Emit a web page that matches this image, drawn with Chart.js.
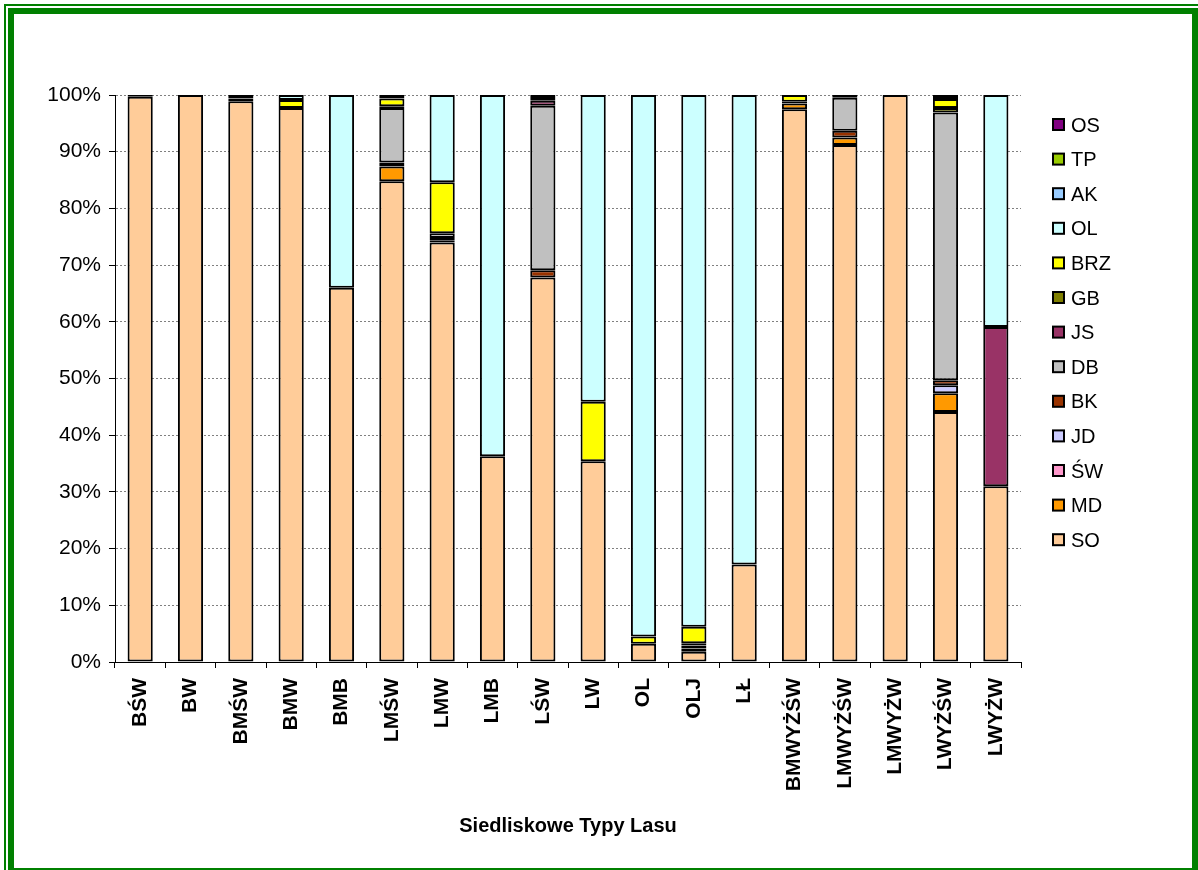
<!DOCTYPE html>
<html>
<head>
<meta charset="utf-8">
<script src="https://cdn.jsdelivr.net/npm/chart.js@4"></script>
<style>
  html, body { margin: 0; padding: 0; background: #fff; overflow: hidden; }
  #wrap { position: relative; width: 1198px; height: 870px; }
  #c { position: absolute; left: 0; top: 0; }
  .b1 { position: absolute; left: 4px; top: 4px; width: 1300px; height: 1000px; border: 2px solid #008000; box-sizing: border-box; }
  .b2 { position: absolute; left: 8px; top: 8px; width: 1190px; height: 866px; border: 6px solid #008000; box-sizing: border-box; }
</style>
</head>
<body>
<div id="wrap">
  <canvas id="c" width="1198" height="870"></canvas>
  <div class="b1"></div>
  <div class="b2"></div>
</div>
<script>
const categories = ['BŚW','BW','BMŚW','BMW','BMB','LMŚW','LMW','LMB','LŚW','LW','OL','OLJ','LŁ','BMWYŻŚW','LMWYŻŚW','LMWYŻW','LWYŻŚW','LWYŻW'];

const SO  = [99.7,100,98.9,97.7,66.0,84.8,74.0,36.3,67.8,35.4,3.2,1.8,17.2,97.5,91.2,100,44.1,31.0];
const MD  = [0,0,0,0,0,2.6,0,0,0,0,0,0,0,1.0,1.3,0,3.3,0];
const SW  = [0,0,0,0,0,0,0,0,0,0,0,0,0,0,0,0,0,0];
const JD  = [0,0,0,0,0,0,0.3,0,0,0,0,0,0,0,0,0,1.4,0];
const BK  = [0,0,0.5,0,0,0.7,0.5,0,1.3,0,0,0.6,0,0.3,1.2,0,0.9,0];
const DB  = [0,0,0,0,0,9.6,0.8,0,29.0,0,0,0,0,0,5.8,0,47.2,0];
const JS  = [0,0,0,0,0,0,0,0,0.9,0,0,0.5,0,0,0,0,0,28.1];
const GB  = [0.3,0,0.6,0,0,0.3,0,0,0,0,0,0.4,0,0,0.5,0,0.8,0];
const BRZ = [0,0,0,1.4,0,1.4,9.0,0,0,10.5,1.3,2.9,0,1.2,0,0,1.6,0];
const OL  = [0,0,0,0.9,34.0,0,15.4,63.7,0,54.1,95.5,93.8,82.8,0,0,0,0,40.9];
const AK  = [0,0,0,0,0,0,0,0,0.3,0,0,0,0,0,0,0,0,0];
const TP  = [0,0,0,0,0,0,0,0,0,0,0,0,0,0,0,0,0,0];
const OS  = [0,0,0,0,0,0.6,0,0,0.7,0,0,0,0,0,0,0,0.7,0];

const seriesNames = ['SO','MD','ŚW','JD','BK','DB','JS','GB','BRZ','OL','AK','TP','OS'];
const seriesData = [SO,MD,SW,JD,BK,DB,JS,GB,BRZ,OL,AK,TP,OS];
const seriesColors = ['#FFCC99','#FF9900','#FF99CC','#CCCCFF','#993300','#C0C0C0','#993366','#808000','#FFFF00','#CCFFFF','#99CCFF','#99CC00','#800080'];

const yTicks = [0,10,20,30,40,50,60,70,80,90,100];
const xTitle = 'Siedliskowe Typy Lasu';

const FONT = 'Arial, "Liberation Sans", sans-serif';

const legendPlugin = {
  id: 'sideLegend',
  afterDraw(chart) {
    const ctx = chart.ctx;
    const ds = chart.data.datasets;
    const x0 = 1053, y0 = 125, step = 34.6;
    ctx.save();
    ctx.font = '20px ' + FONT;
    ctx.textBaseline = 'middle';
    ctx.textAlign = 'left';
    for (let i = ds.length - 1, k = 0; i >= 0; i--, k++) {
      const y = y0 + k * step;
      ctx.fillStyle = ds[i].backgroundColor;
      ctx.fillRect(x0, y - 6, 11, 11);
      ctx.strokeStyle = '#000';
      ctx.lineWidth = 2;
      ctx.strokeRect(x0, y - 6, 11, 11);
      ctx.fillStyle = '#000';
      ctx.fillText(ds[i].label, x0 + 18, y + 1);
    }
    ctx.restore();
  }
};

new Chart(document.getElementById('c'), {
  type: 'bar',
  data: {
    labels: categories,
    datasets: seriesNames.map((n, i) => ({
      label: n,
      data: seriesData[i],
      backgroundColor: seriesColors[i],
      borderColor: '#000',
      borderWidth: 2,
      borderSkipped: false,
      barPercentage: 0.5,
      categoryPercentage: 1.0
    }))
  },
  options: {
    responsive: false,
    devicePixelRatio: 1,
    animation: false,
    layout: { padding: { top: 95, right: 177, bottom: 28, left: 0 } },
    plugins: { legend: { display: false }, tooltip: { enabled: false } },
    scales: {
      x: {
        stacked: true,
        afterFit(s) { s.height = 180; },
        grid: { drawOnChartArea: false, drawTicks: true, tickLength: 6, color: '#000', tickColor: '#000', offset: true },
        border: { display: true, color: '#000', width: 1 },
        ticks: { minRotation: 90, maxRotation: 90, autoSkip: false, padding: 10, color: '#000', font: { family: FONT, size: 21, weight: 'bold' } },
        title: { display: true, text: xTitle, color: '#000', padding: { top: 4, bottom: 4 }, font: { family: FONT, size: 20, weight: 'bold' } }
      },
      y: {
        stacked: true,
        min: 0, max: 100,
        afterFit(s) { s.width = 115; },
        afterBuildTicks(s) { s.ticks = yTicks.map(v => ({ value: v })); },
        grid: { color: '#808080', lineWidth: 1, drawTicks: true, tickLength: 6, tickColor: '#000' },
        border: { display: true, color: '#000', width: 1, dash: [2, 2] },
        ticks: { padding: 8, color: '#000', font: { family: FONT, size: 21 }, callback: v => v + '%' }
      }
    }
  },
  plugins: [legendPlugin]
});
</script>
</body>
</html>
